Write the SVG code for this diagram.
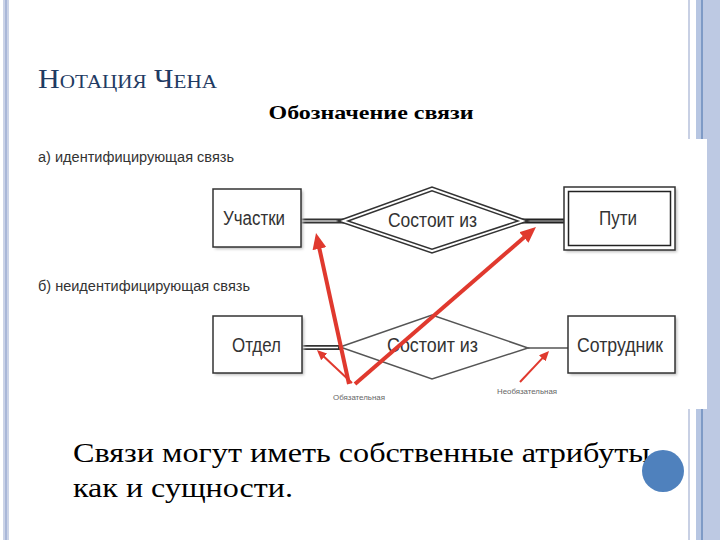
<svg xmlns="http://www.w3.org/2000/svg" width="720" height="540" viewBox="0 0 720 540">
<style>
.ent{fill:#fff;stroke:#333;stroke-width:1.5}
.shadow{fill:#bbb;filter:url(#blur)}
.lbl{font-family:"Liberation Sans",Arial,sans-serif;fill:#333}
.red{stroke:#e0392e;fill:none;stroke-linecap:butt}
.note{font-family:"Liberation Sans",Arial,sans-serif;font-size:8px;fill:#666}
</style>
<defs>
<filter id="blur" x="-10%" y="-10%" width="130%" height="130%"><feGaussianBlur stdDeviation="1.5"/></filter>
<marker id="bigHead" markerUnits="userSpaceOnUse" markerWidth="16" markerHeight="14" refX="2" refY="7" orient="auto" viewBox="0 0 16 14"><path d="M0,0 L16,7 L0,14 z" fill="#e0392e"/></marker>
<marker id="smallHead" markerUnits="userSpaceOnUse" markerWidth="10" markerHeight="9" refX="1" refY="4.5" orient="auto" viewBox="0 0 10 9"><path d="M0,0 L10,4.5 L0,9 z" fill="#e0392e"/></marker>
</defs>
<rect width="720" height="540" fill="#fff"/>
<g id="frame">
<rect x="3" y="0" width="6" height="540" fill="#cbd3e7"/>
<rect x="5" y="0" width="2" height="540" fill="#a9b7d8"/>
<rect x="688" y="0" width="2" height="540" fill="#c8d0e4"/>
<rect x="696" y="0" width="5" height="540" fill="#b7c6e2"/>
<rect x="701" y="0" width="2" height="540" fill="#7e9ac6"/>
<rect x="703" y="0" width="17" height="540" fill="#bdc9e3"/>
<rect x="20" y="139" width="687" height="270" fill="#fff"/>
</g>
<g id="title">
<text x="38" y="88" font-family="'Liberation Serif','Times New Roman',serif" font-size="27" font-variant="small-caps" fill="#1f3b63" textLength="179" lengthAdjust="spacingAndGlyphs">Нотация Чена</text>
</g>
<g id="subtitle">
<text x="371" y="119" text-anchor="middle" font-family="'Liberation Serif','Times New Roman',serif" font-size="19" font-weight="bold" fill="#000" textLength="205" lengthAdjust="spacingAndGlyphs">Обозначение связи</text>
</g>
<text x="38" y="162" class="lbl" font-size="14" textLength="196" lengthAdjust="spacingAndGlyphs">а) идентифицирующая связь</text>
<text x="38" y="291" class="lbl" font-size="14" textLength="212" lengthAdjust="spacingAndGlyphs">б) неидентифицирующая связь</text>

<g id="connectors">
<line x1="301" y1="221" x2="346" y2="221" stroke="#333" stroke-width="5"/>
<line x1="301" y1="221" x2="344" y2="221" stroke="#ccc" stroke-width="1.5"/>
<line x1="518" y1="221" x2="565" y2="221" stroke="#222" stroke-width="5"/>
<line x1="522" y1="221" x2="565" y2="221" stroke="#bbb" stroke-width="1"/>
<line x1="302" y1="347.5" x2="342" y2="347.5" stroke="#333" stroke-width="5"/>
<line x1="302" y1="347.5" x2="338" y2="347.5" stroke="#fff" stroke-width="1.5"/>
<line x1="528" y1="348" x2="568" y2="348" stroke="#555" stroke-width="1.5"/>
</g>

<g id="uchastki">
<rect class="shadow" x="215" y="191" width="88" height="58"/>
<rect class="ent" x="213" y="189" width="88" height="58"/>
<text class="lbl" x="223" y="225" font-size="20" textLength="62" lengthAdjust="spacingAndGlyphs">Участки</text>
</g>
<g id="sostoit1">
<polygon points="338,221 432,187 528,221 432,253" fill="#fff" stroke="#333" stroke-width="1.5"/>
<polygon points="348,221 432,190.7 518,221 432,249.3" fill="#fff" stroke="#333" stroke-width="1.5"/>
<text class="lbl" x="388" y="227" font-size="20" textLength="89" lengthAdjust="spacingAndGlyphs">Состоит из</text>
</g>
<g id="puti">
<rect class="shadow" x="566" y="189" width="111" height="63"/>
<rect class="ent" x="564" y="187" width="111" height="63" stroke="#222" stroke-width="2"/>
<rect x="568.5" y="191.5" width="102" height="54" fill="none" stroke="#222" stroke-width="1.5"/>
<text class="lbl" x="599" y="225" font-size="20" textLength="38" lengthAdjust="spacingAndGlyphs">Пути</text>
</g>

<g id="otdel">
<rect class="shadow" x="215" y="318" width="89" height="57"/>
<rect class="ent" x="213" y="316" width="89" height="57"/>
<text class="lbl" x="232" y="352" font-size="21" textLength="49" lengthAdjust="spacingAndGlyphs">Отдел</text>
</g>
<g id="sostoit2">
<polygon points="340,347 432,315 528,348 432,379" fill="#fff" stroke="#555" stroke-width="1.5"/>
<text class="lbl" x="387" y="352" font-size="21" textLength="91" lengthAdjust="spacingAndGlyphs">Состоит из</text>
</g>
<g id="sotrudnik">
<rect class="shadow" x="570" y="318" width="107" height="57"/>
<rect class="ent" x="568" y="316" width="107" height="57"/>
<text class="lbl" x="577" y="352" font-size="21" textLength="86" lengthAdjust="spacingAndGlyphs">Сотрудник</text>
</g>

<g id="arrows">
<line class="red" x1="349" y1="384" x2="319" y2="246.7" stroke-width="4" marker-end="url(#bigHead)"/>
<line class="red" x1="355" y1="384" x2="525.4" y2="236.2" stroke-width="4" marker-end="url(#bigHead)"/>
<line class="red" x1="352" y1="383" x2="323.5" y2="356.2" stroke-width="2" marker-end="url(#smallHead)"/>
<line class="red" x1="520" y1="382" x2="542.9" y2="357.6" stroke-width="2" marker-end="url(#smallHead)"/>
</g>
<text class="note" x="333" y="400" textLength="52" lengthAdjust="spacingAndGlyphs">Обязательная</text>
<text class="note" x="497" y="394" textLength="60" lengthAdjust="spacingAndGlyphs">Необязательная</text>

<g id="body">
<text font-family="'Liberation Serif','Times New Roman',serif" font-size="27" fill="#000">
<tspan x="73" y="462" textLength="577" lengthAdjust="spacingAndGlyphs">Связи могут иметь собственные атрибуты</tspan>
<tspan x="73" y="497" textLength="220" lengthAdjust="spacingAndGlyphs">как и сущности.</tspan>
</text>
</g>
<circle id="dot" cx="663" cy="471" r="21" fill="#4f81bd"/>
</svg>
